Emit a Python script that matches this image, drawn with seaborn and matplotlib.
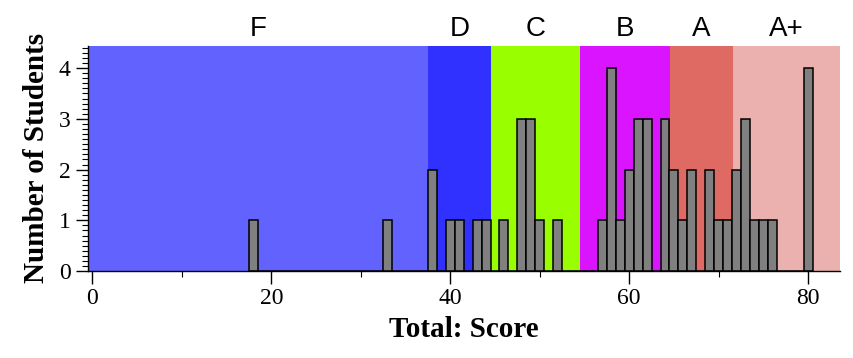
import numpy as np
import matplotlib
matplotlib.use("Agg")
import matplotlib.pyplot as plt
import matplotlib.transforms as mtransforms
from matplotlib.ticker import MultipleLocator
import seaborn as sns

# scores and how many students got each one
scores = [18, 33, 38, 40, 41, 43, 44, 46, 48, 49, 50, 52, 57, 58, 59, 60, 61, 62,
          64, 65, 66, 67, 69, 70, 71, 72, 73, 74, 75, 76, 80]
counts = [1, 1, 2, 1, 1, 1, 1, 1, 3, 3, 1, 1, 1, 4, 1, 2, 3, 3,
          3, 2, 1, 2, 2, 1, 1, 2, 3, 1, 1, 1, 4]

# grade bands
grades = ["F", "D", "C", "B", "A", "A+"]
grade_edges = [-0.5, 37.55, 44.55, 54.55, 64.55, 71.55, 83.6]
grade_colors = ["#6262ff", "#3030ff", "#99ff00", "#da14ff", "#de6a63", "#ebb1ae"]

sns.set_style("ticks")
plt.rcParams["font.family"] = ["Liberation Serif", "DejaVu Serif"]
plt.rcParams["text.color"] = "black"
plt.rcParams["axes.labelcolor"] = "black"
plt.rcParams["xtick.color"] = "black"
plt.rcParams["ytick.color"] = "black"

fig, ax = plt.subplots(figsize=(8.54, 3.58), dpi=100)
fig.subplots_adjust(left=0.103, right=0.984, bottom=0.243, top=0.872)

trans = mtransforms.blended_transform_factory(ax.transData, ax.transAxes)
for i in range(len(grades)):
    lo, hi = grade_edges[i], grade_edges[i + 1]
    ax.axvspan(lo, hi, color=grade_colors[i], lw=0, zorder=0)
    ax.text((lo + hi) / 2, 1.045, grades[i], transform=trans, ha="center",
            va="baseline", fontsize=20, color="black",
            family=["Liberation Sans", "DejaVu Sans"])

sns.histplot(x=scores, weights=counts, discrete=True, color="#808080",
             edgecolor="black", linewidth=1.1, alpha=1, ax=ax, zorder=2)

ax.set_xlim(grade_edges[0], grade_edges[-1])
ax.set_ylim(0, 4.44)
ax.xaxis.set_major_locator(MultipleLocator(20))
ax.xaxis.set_minor_locator(MultipleLocator(10))
ax.yaxis.set_major_locator(MultipleLocator(1))
ax.yaxis.set_minor_locator(MultipleLocator(0.1))
ax.tick_params(axis="both", which="major", length=9, width=1, labelsize=17,
               direction="out", color="black", labelcolor="black")
ax.tick_params(axis="both", which="minor", length=4, width=0.8, direction="out",
               color="black")

for s in ["top", "right"]:
    ax.spines[s].set_visible(False)
for s in ["left", "bottom"]:
    ax.spines[s].set_color("black")
    ax.spines[s].set_linewidth(1)

ax.set_xlabel("Total: Score", fontsize=21, fontweight="bold", labelpad=5)
ax.set_ylabel("Number of Students", fontsize=21, fontweight="bold", labelpad=6)

fig.savefig("out.png", dpi=100)
